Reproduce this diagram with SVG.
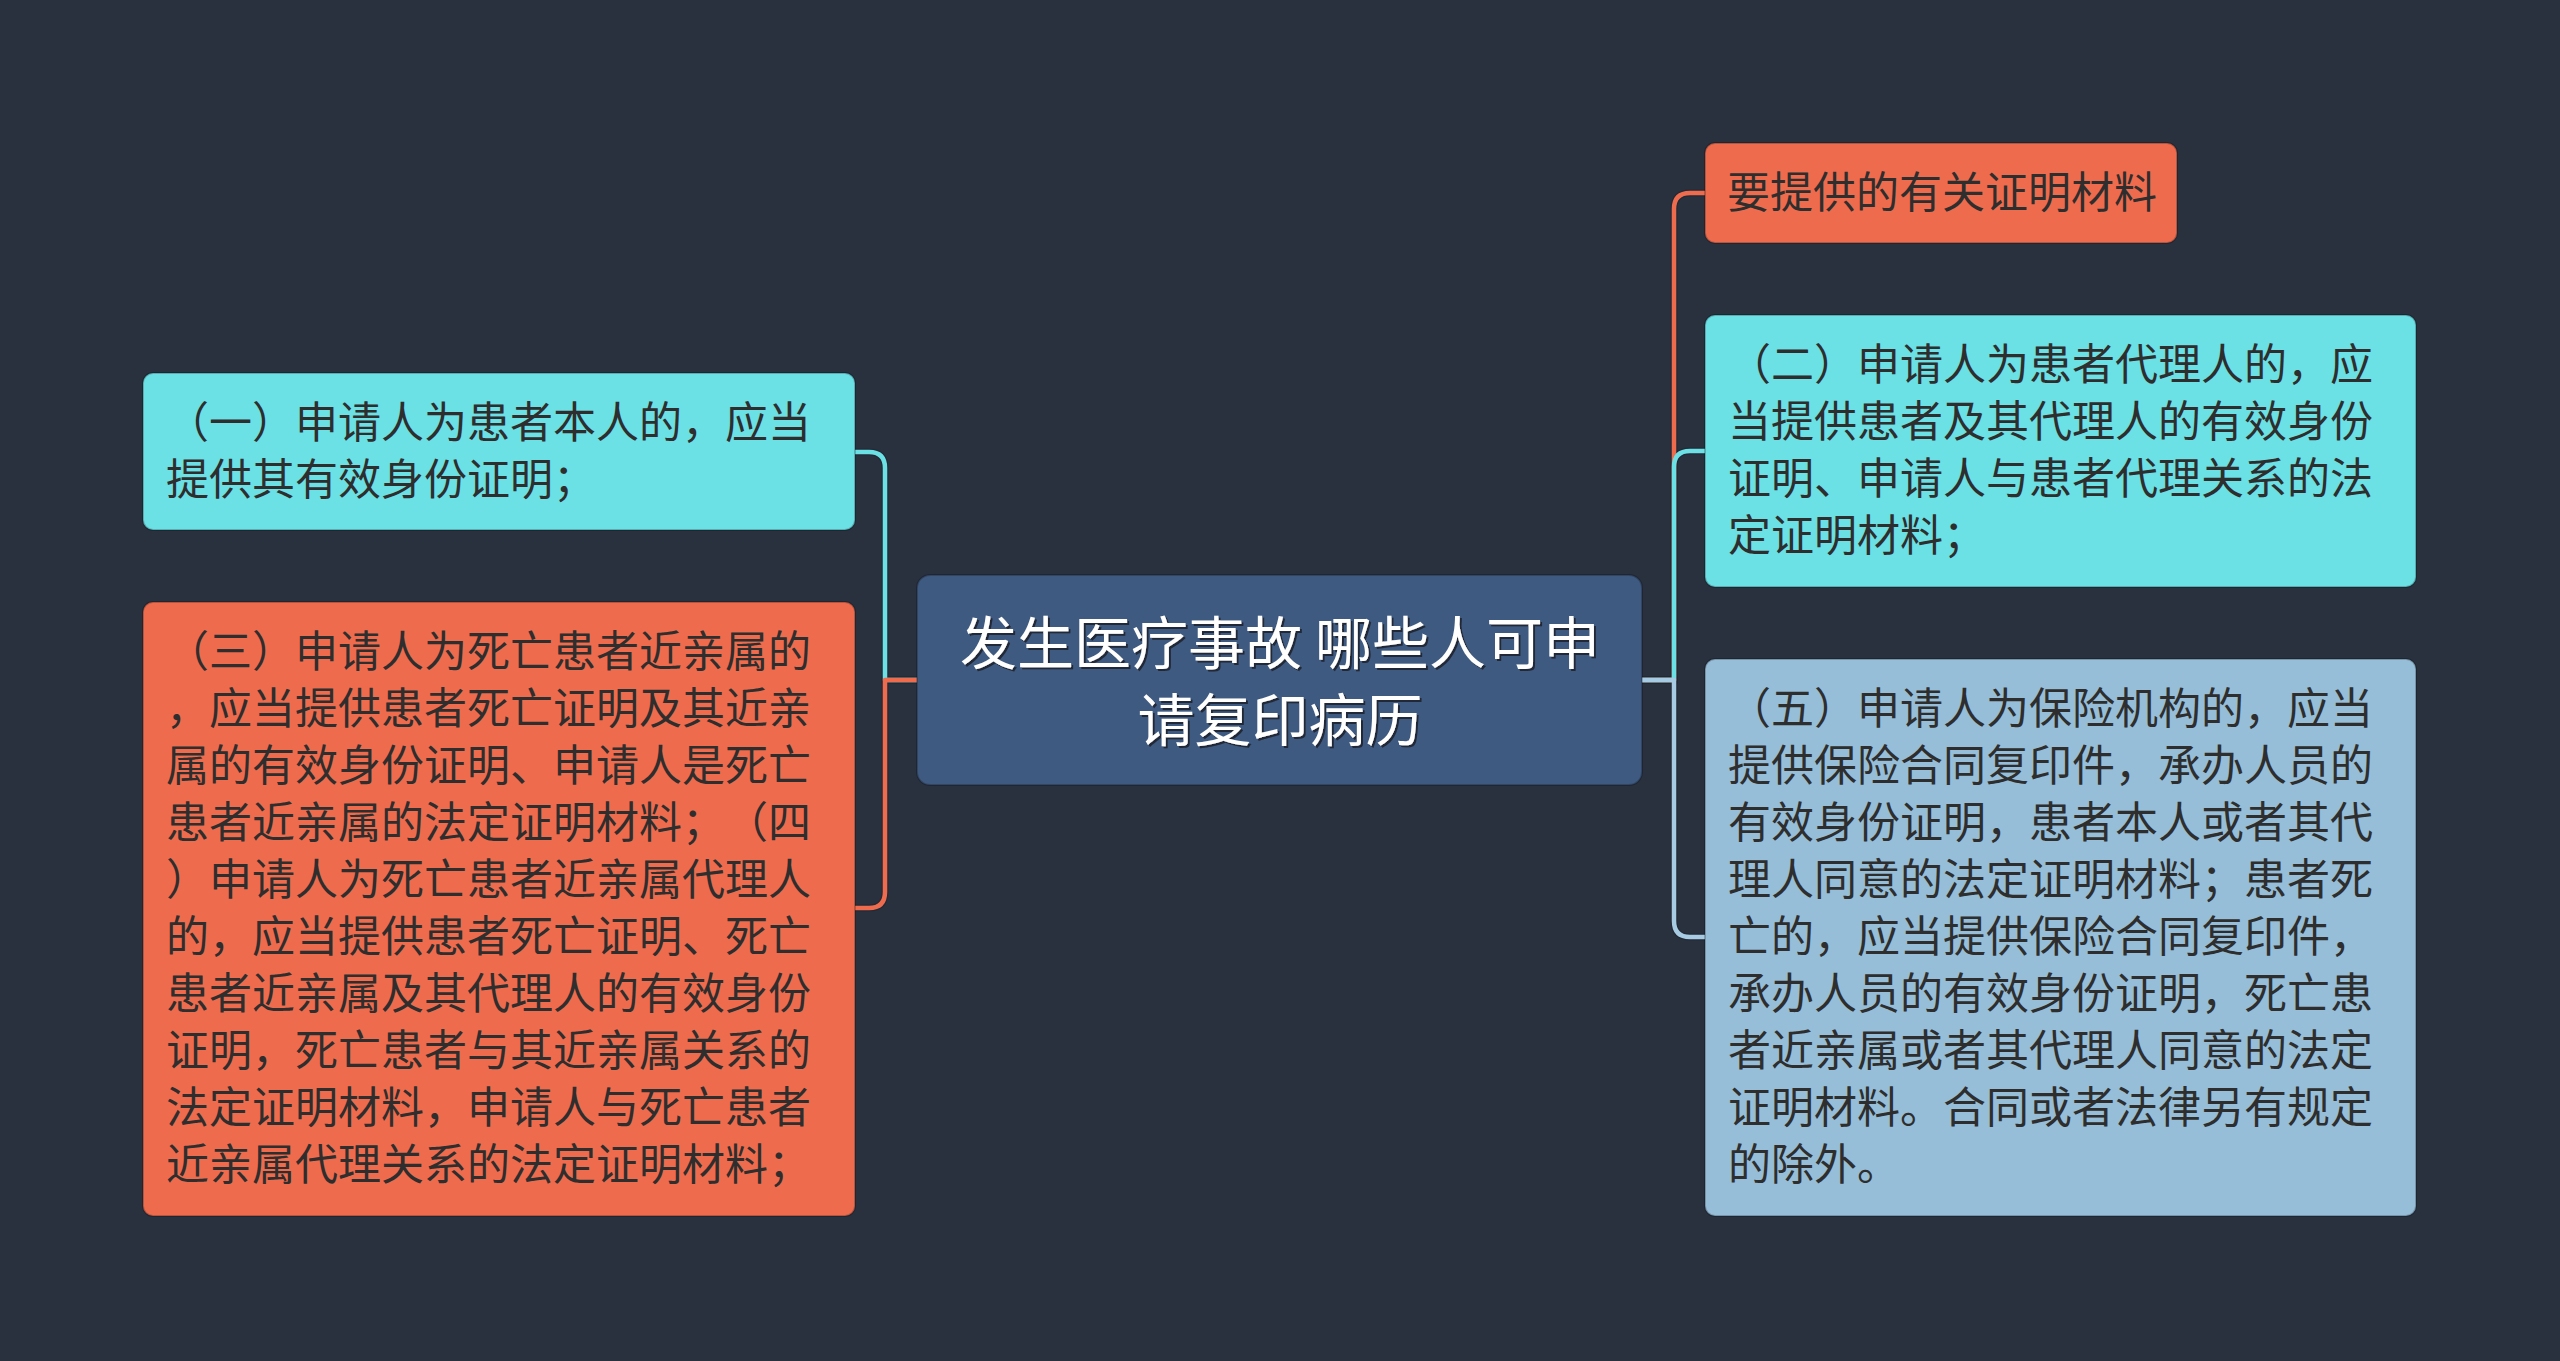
<svg xmlns="http://www.w3.org/2000/svg" width="2560" height="1361" viewBox="0 0 2560 1361">
<defs>
<style>
.bg{fill:#29313f}
.box{stroke:rgba(0,0,0,0.22);stroke-width:2}
.cyan{fill:#6be0e5}
.orange{fill:#ee6c4d}
.lblue{fill:#96bed8}
.center{fill:#3e5a80}
.t{font-family:"Noto Sans CJK SC","Noto Sans",sans-serif;font-size:43px;fill:#2e2e2e;text-spacing-trim:space-all;font-feature-settings:"halt" 0,"chws" 0}
.ct{font-family:"Noto Sans CJK SC","Noto Sans",sans-serif;font-size:57px;fill:#ffffff;text-anchor:middle}
.edge{fill:none;stroke-width:4.5;stroke-linejoin:round;stroke-linecap:butt}
.under{fill:none;stroke:#1f2530;stroke-width:7;opacity:0.6}
</style>
<filter id="sh" x="-5%" y="-5%" width="110%" height="120%">
<feDropShadow dx="2" dy="2" stdDeviation="0.6" flood-color="#1c2430" flood-opacity="0.9"/>
</filter>
</defs>
<rect class="bg" x="0" y="0" width="2560" height="1361"/>

<g id="connectors">
<path class="under" d="M917 680 H885 V468 Q885 452 869 452 H855"/>
<path class="under" d="M917 680 H885 V892 Q885 908 869 908 H855"/>
<path class="under" d="M1642 680 H1674 V209 Q1674 193 1690 193 H1705"/>
<path class="under" d="M1642 680 H1674 V467 Q1674 451 1690 451 H1705"/>
<path class="under" d="M1642 680 H1674 V921 Q1674 937 1690 937 H1705"/>
<path class="edge" stroke="#6be0e5" d="M917 680 H885 V468 Q885 452 869 452 H855"/>
<path class="edge" stroke="#ee6c4d" d="M917 680 H885 V892 Q885 908 869 908 H855"/>
<path class="edge" stroke="#ee6c4d" d="M1642 680 H1674 V209 Q1674 193 1690 193 H1705"/>
<path class="edge" stroke="#6be0e5" d="M1642 680 H1674 V467 Q1674 451 1690 451 H1705"/>
<path class="edge" stroke="#a6cbe2" d="M1642 680 H1674 V921 Q1674 937 1690 937 H1705"/>
</g>

<g id="center">
<rect class="box center" x="917" y="575" width="725" height="210" rx="13"/>
<g filter="url(#sh)">
<text class="ct" x="1280" y="664">发生医疗事故 哪些人可申</text>
<text class="ct" x="1280" y="741">请复印病历</text>
</g>
</g>

<g id="node1">
<rect class="box cyan" x="143" y="373" width="712" height="157" rx="10"/>
<text class="t" x="166" y="438">（一）申请人为患者本人的，应当</text>
<text class="t" x="166" y="495">提供其有效身份证明；</text>
</g>

<g id="node3">
<rect class="box orange" x="143" y="602" width="712" height="614" rx="10"/>
<text class="t" x="166" y="667">（三）申请人为死亡患者近亲属的</text>
<text class="t" x="166" y="724">，应当提供患者死亡证明及其近亲</text>
<text class="t" x="166" y="781">属的有效身份证明、申请人是死亡</text>
<text class="t" x="166" y="838">患者近亲属的法定证明材料；（四</text>
<text class="t" x="166" y="895">）申请人为死亡患者近亲属代理人</text>
<text class="t" x="166" y="952">的，应当提供患者死亡证明、死亡</text>
<text class="t" x="166" y="1009">患者近亲属及其代理人的有效身份</text>
<text class="t" x="166" y="1066">证明，死亡患者与其近亲属关系的</text>
<text class="t" x="166" y="1123">法定证明材料，申请人与死亡患者</text>
<text class="t" x="166" y="1180">近亲属代理关系的法定证明材料；</text>
</g>

<g id="nodeTop">
<rect class="box orange" x="1705" y="143" width="472" height="100" rx="10"/>
<text class="t" x="1727" y="208">要提供的有关证明材料</text>
</g>

<g id="node2">
<rect class="box cyan" x="1705" y="315" width="711" height="272" rx="10"/>
<text class="t" x="1728" y="380">（二）申请人为患者代理人的，应</text>
<text class="t" x="1728" y="437">当提供患者及其代理人的有效身份</text>
<text class="t" x="1728" y="494">证明、申请人与患者代理关系的法</text>
<text class="t" x="1728" y="551">定证明材料；</text>
</g>

<g id="node5">
<rect class="box lblue" x="1705" y="659" width="711" height="557" rx="10"/>
<text class="t" x="1728" y="724">（五）申请人为保险机构的，应当</text>
<text class="t" x="1728" y="781">提供保险合同复印件，承办人员的</text>
<text class="t" x="1728" y="838">有效身份证明，患者本人或者其代</text>
<text class="t" x="1728" y="895">理人同意的法定证明材料；患者死</text>
<text class="t" x="1728" y="952">亡的，应当提供保险合同复印件，</text>
<text class="t" x="1728" y="1009">承办人员的有效身份证明，死亡患</text>
<text class="t" x="1728" y="1066">者近亲属或者其代理人同意的法定</text>
<text class="t" x="1728" y="1123">证明材料。合同或者法律另有规定</text>
<text class="t" x="1728" y="1180">的除外。</text>
</g>
</svg>
